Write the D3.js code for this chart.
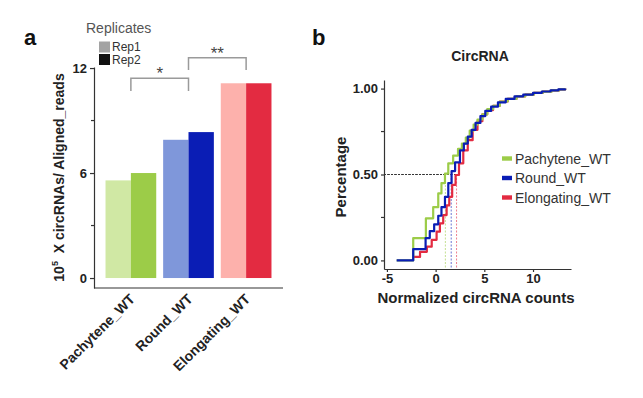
<!DOCTYPE html>
<html>
<head>
<meta charset="utf-8">
<script src="https://cdn.jsdelivr.net/npm/d3@7"></script>
<style>
    body { margin: 0; background: #fff; }
    text { font-family: "Liberation Sans", Arial, sans-serif; }
</style>
</head>
<body>
<svg id="svg" width="643" height="398"></svg>
<script>
    // panel a : circRNA abundance per stage, two replicates
    var stages = ['Pachytene_WT', 'Round_WT', 'Elongating_WT'];
    var replicates = ['Rep1', 'Rep2'];
    var rep1Values = [5.58, 7.9, 11.13];
    var rep2Values = [6.0, 8.34, 11.13];
    var barTicks = [0, 6, 12];
    var barMinorTicks = [3, 9];
    // significance brackets: [from stage, to stage, label, bracket top, leg end]
    var sigPairs = [[0, 1, '*', 11.41, 10.69], [1, 2, '**', 12.59, 11.89]];

    // panel b : ECDF steps [x, cumulative fraction]
    var pachyteneCdf = [[-4.0, 0], [-2.3, 0.13], [-1.0, 0.245], [-0.25, 0.31], [0.27, 0.39], [0.6, 0.45],
        [0.96, 0.505], [1.3, 0.565], [1.8, 0.61], [2.3, 0.65], [2.7, 0.68], [3.1, 0.715], [3.5, 0.755],
        [3.9, 0.79], [4.3, 0.82], [4.8, 0.85], [5.3, 0.88], [5.9, 0.9], [6.6, 0.925], [7.4, 0.94],
        [8.3, 0.955], [9.2, 0.965], [10.1, 0.975], [11.0, 0.982], [11.9, 0.99], [12.7, 0.995], [13.3, 1.0]];
    var roundCdf = [[-4.0, 0], [-2.3, 0.066], [-1.03, 0.13], [-0.6, 0.17], [-0.15, 0.21], [0.27, 0.26],
        [0.6, 0.31], [0.96, 0.37], [1.3, 0.45], [1.64, 0.52], [2.0, 0.57], [2.5, 0.64], [2.9, 0.68],
        [3.3, 0.72], [3.7, 0.76], [4.1, 0.8], [4.6, 0.84], [5.1, 0.87], [5.7, 0.895], [6.4, 0.92],
        [7.2, 0.94], [8.1, 0.955], [9.0, 0.965], [10.0, 0.975], [10.9, 0.983], [11.8, 0.99], [12.6, 0.995], [13.3, 1.0]];
    var elongatingCdf = [[-2.3, 0.02], [-1.6, 0.05], [-0.9, 0.08], [-0.4, 0.12], [0.1, 0.167], [0.44, 0.216],
        [0.78, 0.264], [1.13, 0.32], [1.4, 0.37], [1.7, 0.44], [2.05, 0.497], [2.4, 0.565], [2.84, 0.64],
        [3.3, 0.7], [3.8, 0.76], [4.3, 0.81], [4.8, 0.85], [5.3, 0.875], [5.9, 0.9], [6.6, 0.925],
        [7.4, 0.94], [8.3, 0.955], [9.2, 0.965], [10.1, 0.975], [11.0, 0.983], [11.9, 0.99], [12.7, 0.995], [13.3, 1.0]];
    var medianValues = [1.0, 1.6, 2.15];
    var cdfTicksX = [-5, 0, 5, 10];
    var cdfTicksY = [0, 0.5, 1];
    var cdfMinorTicksY = [0.25, 0.75];

    var rep1Colors = ['#d0e8a4', '#7f97da', '#fdb1ac'];
    var rep2Colors = ['#9ccc48', '#0a1db5', '#e32b41'];
    var repKeyColors = ['#a3a3a3', '#111111'];

    var svg = d3.select('#svg');
    var axisColor = '#333';

    //==================== panel a
    var ga = svg.append('g');
    var xA = d3.scaleBand().domain(stages).range([94, 283]).paddingInner(0.12).paddingOuter(0.2);
    var xRep = d3.scaleBand().domain(replicates).range([0, xA.bandwidth()]);
    var yA = d3.scaleLinear().domain([-0.57, 12.06]).range([288, 67]);

    var barData = [];
    stages.forEach(function (s, i) {
        barData.push({stage: s, rep: 'Rep1', value: rep1Values[i], color: rep1Colors[i]});
        barData.push({stage: s, rep: 'Rep2', value: rep2Values[i], color: rep2Colors[i]});
    });
    ga.selectAll('.bar')
        .data(barData)
        .enter().append('rect')
        .attr('class', 'bar')
        .attr('x', function (d) { return xA(d.stage) + xRep(d.rep); })
        .attr('width', xRep.bandwidth())
        .attr('y', function (d) { return yA(d.value); })
        .attr('height', function (d) { return yA(0) - yA(d.value); })
        .attr('fill', function (d) { return d.color; });

    // y axis
    var axA = ga.append('g').attr('transform', 'translate(94,0)')
        .call(d3.axisLeft(yA).tickValues(barTicks).tickSize(4).tickSizeOuter(0).tickPadding(3));
    axA.selectAll('text').attr('font-size', 13).attr('font-weight', 'bold').attr('fill', '#222');
    axA.append('g').selectAll('line')
        .data(barMinorTicks)
        .enter().append('line')
        .attr('x1', -3).attr('x2', 0)
        .attr('y1', function (d) { return yA(d); })
        .attr('y2', function (d) { return yA(d); })
        .attr('stroke', axisColor);
    axA.selectAll('path, line').attr('stroke', axisColor).attr('stroke-width', 1.2);

    // x axis
    ga.append('line')
        .attr('x1', 94).attr('x2', 283)
        .attr('y1', yA.range()[0]).attr('y2', yA.range()[0])
        .attr('stroke', axisColor).attr('stroke-width', 1.2);
    ga.selectAll('.xlab')
        .data(stages)
        .enter().append('text')
        .attr('class', 'xlab')
        .attr('transform', function (d) {
            return 'translate(' + (xA(d) + xA.bandwidth() / 2 + 5) + ',300) rotate(-45)';
        })
        .attr('text-anchor', 'end')
        .attr('font-size', 14).attr('font-weight', 'bold').attr('fill', '#222')
        .text(function (d) { return d; });

    // y label
    var yLab = ga.append('text')
        .attr('transform', 'translate(64,' + ((67 + 288) / 2) + ') rotate(-90)')
        .attr('text-anchor', 'middle')
        .attr('font-size', 14).attr('font-weight', 'bold').attr('fill', '#222');
    yLab.append('tspan').text('10');
    yLab.append('tspan').attr('font-size', 9).attr('dy', -6).text('5');
    yLab.append('tspan').attr('dy', 6).text('\u00a0 X circRNAs/ Aligned_reads');

    // brackets
    sigPairs.forEach(function (p) {
        var x1 = xA(stages[p[0]]) + xA.bandwidth() / 2,
            x2 = xA(stages[p[1]]) + xA.bandwidth() / 2,
            yt = yA(p[3]), yb = yA(p[4]);
        ga.append('path')
            .attr('d', 'M' + x1 + ',' + yb + 'V' + yt + 'H' + x2 + 'V' + yb)
            .attr('fill', 'none').attr('stroke', '#9a9a9a').attr('stroke-width', 1.5);
        ga.append('text')
            .attr('x', (x1 + x2) / 2).attr('y', yt + 1)
            .attr('text-anchor', 'middle')
            .attr('font-size', 17).attr('fill', '#444')
            .text(p[2]);
    });

    // replicate legend
    ga.append('text').attr('x', 86).attr('y', 33)
        .attr('font-size', 14).attr('fill', '#555').text('Replicates');
    var repLeg = ga.selectAll('.repleg')
        .data(replicates)
        .enter().append('g')
        .attr('class', 'repleg')
        .attr('transform', function (d, i) { return 'translate(99,' + (41.5 + i * 12.5) + ')'; });
    repLeg.append('rect')
        .attr('width', 11).attr('height', 11)
        .attr('fill', function (d, i) { return repKeyColors[i]; });
    repLeg.append('text')
        .attr('x', 13).attr('y', 9.5)
        .attr('font-size', 12).attr('fill', '#333')
        .text(function (d) { return d; });

    ga.append('text').attr('x', 24).attr('y', 45)
        .attr('font-size', 22).attr('font-weight', 'bold').attr('fill', '#111').text('a');

    //==================== panel b
    var gb = svg.append('g');
    var xB = d3.scaleLinear().domain([-5.3, 13.9]).range([384, 571]);
    var yB = d3.scaleLinear().domain([-0.05, 1.05]).range([269, 80]);
    var cdfSeries = [
        {name: stages[0], values: pachyteneCdf, color: rep2Colors[0], median: medianValues[0]},
        {name: stages[1], values: roundCdf, color: rep2Colors[1], median: medianValues[1]},
        {name: stages[2], values: elongatingCdf, color: rep2Colors[2], median: medianValues[2]}
    ];

    // median guides
    gb.selectAll('.medv')
        .data(cdfSeries)
        .enter().append('line')
        .attr('class', 'medv')
        .attr('x1', function (d) { return xB(d.median); })
        .attr('x2', function (d) { return xB(d.median); })
        .attr('y1', yB(0.5)).attr('y2', yB.range()[0])
        .attr('stroke', function (d) { return d.color; })
        .attr('stroke-opacity', 0.6)
        .attr('stroke-width', 1).attr('stroke-dasharray', '2,1.5');
    gb.selectAll('.medh')
        .data(cdfSeries)
        .enter().append('line')
        .attr('class', 'medh')
        .attr('x1', xB.range()[0])
        .attr('x2', function (d) { return xB(d.median); })
        .attr('y1', yB(0.5)).attr('y2', yB(0.5))
        .attr('stroke', '#333').attr('stroke-width', 1).attr('stroke-dasharray', '2,1.5');

    var line = d3.line()
        .x(function (d) { return xB(d[0]); })
        .y(function (d) { return yB(d[1]); })
        .curve(d3.curveStepAfter);
    var drawOrder = [2, 0, 1];
    gb.selectAll('.cdf')
        .data(drawOrder.map(function (i) { return cdfSeries[i]; }))
        .enter().append('path')
        .attr('class', 'cdf')
        .attr('d', function (d) { return line(d.values); })
        .attr('fill', 'none')
        .attr('stroke', function (d) { return d.color; })
        .attr('stroke-width', 2.2)
        .attr('stroke-linejoin', 'round');

    var axBy = gb.append('g').attr('transform', 'translate(384,0)')
        .call(d3.axisLeft(yB).tickValues(cdfTicksY).tickFormat(d3.format('.2f'))
            .tickSize(3).tickSizeOuter(0).tickPadding(3));
    axBy.append('g').selectAll('line')
        .data(cdfMinorTicksY)
        .enter().append('line')
        .attr('x1', -3).attr('x2', 0)
        .attr('y1', function (d) { return yB(d); })
        .attr('y2', function (d) { return yB(d); });
    var axBx = gb.append('g').attr('transform', 'translate(0,269)')
        .call(d3.axisBottom(xB).tickValues(cdfTicksX).tickFormat(function (d) { return String(d); })
            .tickSize(3).tickSizeOuter(0).tickPadding(2));
    [axBy, axBx].forEach(function (ax) {
        ax.selectAll('path, line').attr('stroke', axisColor).attr('stroke-width', 1.2);
        ax.selectAll('text').attr('font-size', 13).attr('font-weight', 'bold').attr('fill', '#222');
    });

    gb.append('text').attr('x', 480).attr('y', 61).attr('text-anchor', 'middle')
        .attr('font-size', 14).attr('font-weight', 'bold').attr('fill', '#222').text('CircRNA');
    gb.append('text').attr('x', 476).attr('y', 303).attr('text-anchor', 'middle')
        .attr('font-size', 15).attr('font-weight', 'bold').attr('fill', '#222').text('Normalized circRNA counts');
    gb.append('text').attr('transform', 'translate(346,177) rotate(-90)').attr('text-anchor', 'middle')
        .attr('font-size', 15).attr('font-weight', 'bold').attr('fill', '#222').text('Percentage');

    var cdfLeg = gb.selectAll('.cdfleg')
        .data(cdfSeries)
        .enter().append('g')
        .attr('class', 'cdfleg')
        .attr('transform', function (d, i) { return 'translate(502,' + (158.5 + i * 19.5) + ')'; });
    cdfLeg.append('rect')
        .attr('y', -2.2).attr('width', 10).attr('height', 4.4)
        .attr('fill', function (d) { return d.color; });
    cdfLeg.append('text')
        .attr('x', 13).attr('y', 5)
        .attr('font-size', 14).attr('fill', '#333')
        .text(function (d) { return d.name; });

    gb.append('text').attr('x', 312).attr('y', 45)
        .attr('font-size', 22).attr('font-weight', 'bold').attr('fill', '#111').text('b');
</script>
</body>
</html>
